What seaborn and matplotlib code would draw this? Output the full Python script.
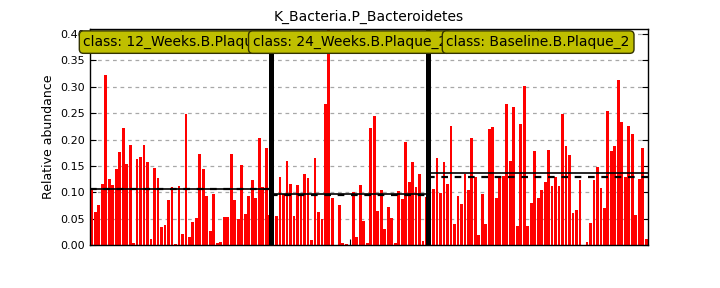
import numpy as np
import pandas as pd
import matplotlib
matplotlib.use("Agg")
import matplotlib.pyplot as plt
import seaborn as sns

title = "K_Bacteria.P_Bacteroidetes"
class_names = ["12_Weeks.B.Plaque_2", "24_Weeks.B.Plaque_2", "Baseline.B.Plaque_2"]

weeks12 = [0.104, 0.063, 0.076, 0.116, 0.322, 0.125, 0.114, 0.144, 0.176, 0.222,
           0.154, 0.190, 0.004, 0.163, 0.167, 0.190, 0.157, 0.011, 0.146, 0.127,
           0.034, 0.038, 0.085, 0.110, 0.002, 0.112, 0.021, 0.248, 0.015, 0.044,
           0.051, 0.172, 0.144, 0.093, 0.027, 0.097, 0.004, 0.006, 0.053, 0.053,
           0.172, 0.085, 0.049, 0.152, 0.059, 0.093, 0.123, 0.089, 0.203, 0.110,
           0.184, 0.057]
weeks24 = [0.097, 0.055, 0.129, 0.097, 0.159, 0.116, 0.055, 0.114, 0.095, 0.135,
           0.127, 0.009, 0.165, 0.063, 0.049, 0.267, 0.409, 0.089, 0.000, 0.076,
           0.004, 0.002, 0.000, 0.100, 0.015, 0.114, 0.045, 0.004, 0.222, 0.244,
           0.064, 0.104, 0.030, 0.072, 0.051, 0.004, 0.102, 0.087, 0.195, 0.119,
           0.157, 0.110, 0.135, 0.008, 0.091]
baseline = [0.169, 0.106, 0.165, 0.099, 0.157, 0.116, 0.226, 0.040, 0.093, 0.078,
            0.135, 0.104, 0.203, 0.129, 0.019, 0.097, 0.040, 0.220, 0.224, 0.089,
            0.129, 0.131, 0.267, 0.159, 0.262, 0.036, 0.229, 0.301, 0.036, 0.080,
            0.178, 0.089, 0.104, 0.119, 0.180, 0.112, 0.129, 0.112, 0.248, 0.188,
            0.171, 0.061, 0.066, 0.123, 0.000, 0.006, 0.042, 0.123, 0.148, 0.108,
            0.070, 0.254, 0.178, 0.188, 0.313, 0.233, 0.129, 0.226, 0.210, 0.057,
            0.125, 0.184, 0.011]
yticks = [0.00, 0.05, 0.10, 0.15, 0.20, 0.25, 0.30, 0.35, 0.40]

groups = [weeks12, weeks24, baseline]
values = np.concatenate(groups)
idx = np.arange(len(values))
df = pd.DataFrame({"idx": idx, "abundance": values})

plt.rcParams["xtick.direction"] = "in"
plt.rcParams["ytick.direction"] = "in"

fig = plt.figure(figsize=(7.2, 2.88), dpi=100)
ax = fig.add_axes([0.125, 0.149, 0.775, 0.749])

sns.barplot(data=df, x="idx", y="abundance", color="red", saturation=1,
            width=0.8, errorbar=None, ax=ax, linewidth=0, zorder=2)

ax.set_xlim(-0.5, len(values) - 0.5)
ax.set_ylim(0, values.max())
ax.set_yticks(yticks)
ax.set_yticklabels([f"{t:.2f}" for t in yticks], fontsize=8)
ax.yaxis.grid(True, linestyle=(0, (3, 3)), color="#a8a8a8", lw=0.9, zorder=0)
ax.set_axisbelow(True)
ax.tick_params(axis="y", which="both", left=True, right=True, length=4, width=0.8)

starts = np.cumsum([0] + [len(g) for g in groups])
centers = []
for k, g in enumerate(groups):
    s, e = starts[k], starts[k + 1]
    centers.append((s + e - 1) / 2)
    m = np.mean(g)
    med = np.median(g)
    ax.plot([s - 0.5, e - 0.5], [m, m], color="black", lw=1.2, zorder=3)
    ax.plot([s - 0.5, e - 0.5], [med, med], color="black", lw=1.6,
            linestyle=(0, (3, 3)), zorder=3)
    if k > 0:
        ax.axvline(s - 0.5, color="black", lw=3.6, zorder=4)

ax.set_xticks(centers)
ax.set_xticklabels([""] * len(centers))
ax.tick_params(axis="x", top=True, bottom=True, length=4, width=0.8)
ax.set_xlabel("")
ax.set_ylabel("Relative abundance", fontsize=9)
ax.set_title(title, fontsize=10)

# class boxes overlap one another, as in the reference (later box on top)
for c, name in zip(centers, class_names):
    ax.text(c, 0.941, "class: " + name, transform=ax.get_xaxis_transform(),
            ha="center", va="center", fontsize=10, zorder=6,
            bbox=dict(boxstyle="round,pad=0.3", facecolor=(0.75, 0.75, 0.0),
                      edgecolor="#333300", lw=1.0))

for sp in ax.spines.values():
    sp.set_color("black")
    sp.set_linewidth(1.0)

fig.savefig("out.png", dpi=100)
